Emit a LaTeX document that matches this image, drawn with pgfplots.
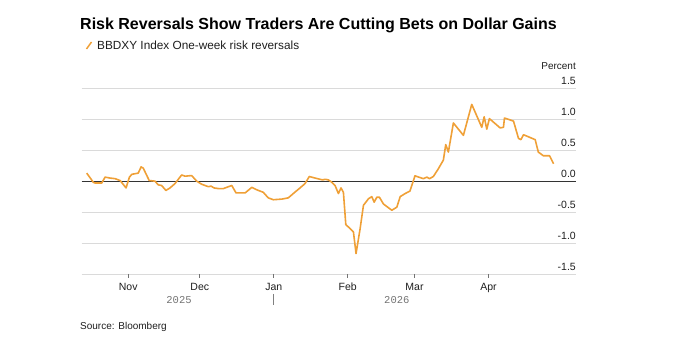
\documentclass[border=0pt]{standalone}
\usepackage{pgfplots}
\pgfplotsset{compat=1.18}
\usepackage{fontspec}
\setmainfont{Liberation Sans}
\newfontfamily\monofont{Liberation Mono}
\definecolor{lineor}{RGB}{239,160,55}
\definecolor{gridc}{RGB}{218,218,218}
\definecolor{txt}{RGB}{30,30,30}
\pgfplotstableread{
d v
-78.4 0.13
-75.6 -0.02
-74.9 -0.03
-72.1 -0.03
-70.7 0.065
-68.6 0.05
-66.5 0.04
-64.4 0.01
-61.9 -0.11
-60.5 0.065
-59.5 0.11
-56.8 0.13
-55.6 0.23
-54.7 0.21
-52.2 0.01
-49.8 0.00
-48.4 -0.06
-47.0 -0.07
-45.2 -0.15
-43.5 -0.11
-41.4 -0.04
-38.6 0.10
-37.2 0.08
-34.4 0.09
-32.3 0.00
-30.2 -0.05
-27.4 -0.09
-26.3 -0.08
-25.0 -0.11
-23.2 -0.12
-21.1 -0.12
-17.6 -0.07
-15.8 -0.19
-12.0 -0.19
-9.2 -0.10
-7.1 -0.14
-4.4 -0.18
-2.3 -0.27
-0.2 -0.30
3.4 -0.29
6.1 -0.27
8.2 -0.20
11.0 -0.11
13.1 -0.04
14.9 0.075
17.3 0.05
19.4 0.03
20.5 0.02
21.5 0.03
22.9 0.02
24.3 -0.016
25.7 -0.07
27.1 -0.20
28.2 -0.11
29.2 -0.18
30.2 -0.70
33.4 -0.82
34.5 -1.17
36.2 -0.77
37.6 -0.39
39.7 -0.285
41.1 -0.25
42.1 -0.34
43.2 -0.26
44.3 -0.26
46.0 -0.37
49.5 -0.47
51.6 -0.42
53.0 -0.25
55.1 -0.20
57.1 -0.16
59.2 0.086
62.7 0.04
64.2 0.065
65.3 0.04
66.9 0.075
69.0 0.20
71.1 0.34
72.1 0.59
73.2 0.47
75.3 0.94
79.5 0.74
83.0 1.24
87.2 0.87
88.2 1.04
89.3 0.84
90.4 1.01
94.9 0.86
96.3 0.87
96.7 1.02
100.5 0.97
102.6 0.69
103.6 0.67
104.7 0.75
109.6 0.67
110.9 0.47
113.0 0.41
115.6 0.41
117.3 0.28
}\rr
\begin{document}
\begin{tikzpicture}[x=1pt,y=1pt]
\path[use as bounding box] (0,0) rectangle (684,355);
\node[anchor=west,inner sep=0pt,text=black] at (80,330) {\fontsize{16}{19}\selectfont\bfseries Risk Reversals Show Traders Are Cutting Bets on Dollar Gains};
\draw[lineor,line width=1.5pt] (86.5,306) -- (91.5,313);
\node[anchor=west,inner sep=0pt,text=txt] at (97,309.5) {\fontsize{11.8}{13}\selectfont BBDXY Index One-week risk reversals};
\node[anchor=east,inner sep=0pt,text=txt] at (576,289) {\fontsize{10}{11}\selectfont Percent};
\node[anchor=west,inner sep=0pt,text=txt] at (80,28) {\fontsize{10}{11}\selectfont Source: Bloomberg};
\begin{axis}[
  at={(81.7pt,81pt)}, anchor=south west,
  scale only axis, width=494.3pt, height=185.7pt,
  xmin=-80.5, xmax=126.7, ymin=-1.5, ymax=1.5,
  axis line style={draw=none},
  xtick pos=bottom, ytick pos=right,
  xticklabel pos=bottom, yticklabel pos=right,
  ytick={-1.5,-1,-0.5,0,0.5,1,1.5},
  yticklabels={-1.5,-1.0,-0.5,0.0,0.5,1.0,1.5},
  xtick={-61,-31,0,31,59,90},
  xticklabels={Nov,Dec,Jan,Feb,Mar,Apr},
  ymajorgrids, grid style={gridc, line width=0.8pt},
  tick align=outside,
  major tick length=4pt,
  every tick/.style={black!55, line width=0.8pt},
  every y tick/.style={white},
  yticklabel style={anchor=south east, inner sep=0pt, xshift=-4pt, yshift=3.5pt, font=\fontsize{10.5}{12}\selectfont, text=txt},
  xticklabel style={inner sep=0pt, yshift=-5pt, font=\fontsize{10.5}{12}\selectfont, text=txt},
  clip=false,
]
\pgfplotsinvokeforeach{-61,-31,0,31,59,90}{
  \draw[black!55, line width=0.8pt] (axis cs:#1,-1.5) -- ([yshift=-4pt]axis cs:#1,-1.5);
}
\draw[black!80, line width=0.9pt] (axis cs:-80.5,0) -- (axis cs:126.7,0);
\addplot[lineor, line width=1.6pt, line join=round] table[x=d,y=v]{\rr};
\node[text=gray!90!black, inner sep=0pt] at (axis cs:-39.7,-1.5) [yshift=-26pt] {\monofont\fontsize{10.5}{12}\selectfont 2025};
\node[text=gray!90!black, inner sep=0pt] at (axis cs:51.6,-1.5) [yshift=-26pt] {\monofont\fontsize{10.5}{12}\selectfont 2026};
\draw[black!50, line width=0.8pt] ([yshift=-20pt]axis cs:0,-1.5) -- ([yshift=-31pt]axis cs:0,-1.5);
\end{axis}
\end{tikzpicture}
\end{document}
